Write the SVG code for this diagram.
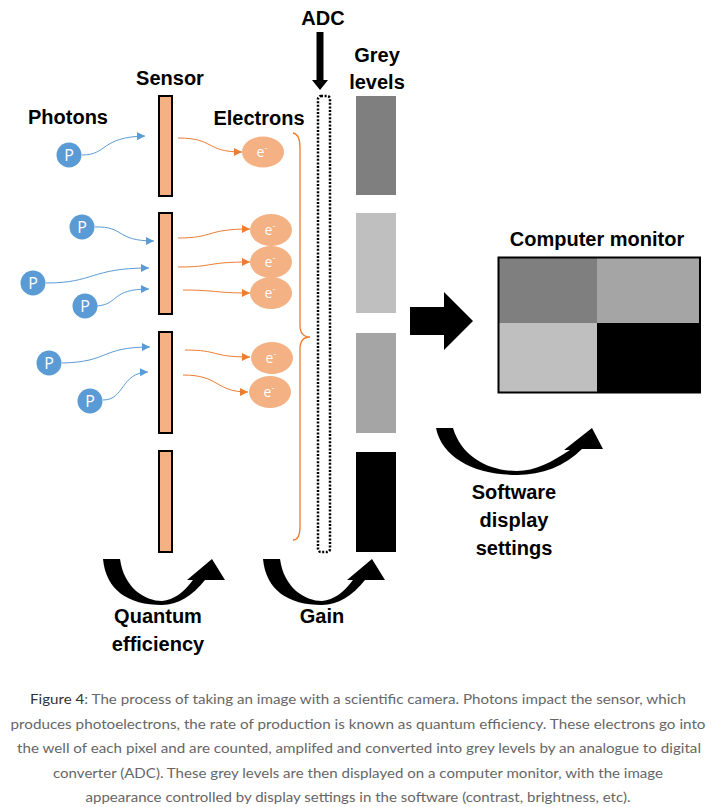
<svg xmlns="http://www.w3.org/2000/svg" width="716" height="807" viewBox="0 0 716 807">
<style>
.lbl{font-family:"Liberation Sans",Arial,sans-serif;font-weight:bold;font-size:20px;fill:#000;text-anchor:middle}
.bar{fill:#F4B183;stroke:#000;stroke-width:2}
.ph{fill:#5B9BD5}
.pt{font-family:"Open Sans","Liberation Sans",sans-serif;font-size:16px;fill:#fff;text-anchor:middle}
.el{fill:#F4B183}
.et{font-family:"Open Sans","Liberation Sans",sans-serif;font-size:14px;fill:#fff;text-anchor:middle}
.bl{fill:none;stroke:#5B9BD5;stroke-width:1}
.ol{fill:none;stroke:#ED7D31;stroke-width:1}
.cap{font-family:Lato,"Liberation Sans",sans-serif;font-size:14px;fill:#666;text-anchor:middle}
</style>
<defs>
<marker id="ab" markerUnits="userSpaceOnUse" markerWidth="10" markerHeight="10" refX="8" refY="4" orient="auto"><path d="M0,0 L8,4 L0,8 Z" fill="#5B9BD5"/></marker>
<marker id="ao" markerUnits="userSpaceOnUse" markerWidth="10" markerHeight="10" refX="8" refY="4" orient="auto"><path d="M0,0 L8,4 L0,8 Z" fill="#ED7D31"/></marker>
</defs>
<rect width="716" height="807" fill="#fff"/>

<g id="labels">
<text class="lbl" x="68" y="124">Photons</text>
<text class="lbl" x="170" y="85">Sensor</text>
<text class="lbl" x="259" y="125">Electrons</text>
<text class="lbl" x="323" y="25">ADC</text>
<text class="lbl" x="377" y="62">Grey</text>
<text class="lbl" x="377" y="89">levels</text>
<text class="lbl" x="597" y="246">Computer monitor</text>
<text class="lbl" x="158" y="623">Quantum</text>
<text class="lbl" x="158" y="651">efficiency</text>
<text class="lbl" x="322" y="623">Gain</text>
<text class="lbl" x="514" y="499">Software</text>
<text class="lbl" x="514" y="527">display</text>
<text class="lbl" x="514" y="555">settings</text>
</g>

<g id="sensor">
<rect class="bar" x="159" y="96" width="13" height="100"/>
<rect class="bar" x="159" y="213" width="13" height="101"/>
<rect class="bar" x="159" y="332" width="13" height="101"/>
<rect class="bar" x="159" y="451" width="13" height="101"/>
</g>

<g id="photons">
<circle class="ph" cx="69" cy="155" r="12.5"/><text class="pt" x="69" y="161">P</text>
<circle class="ph" cx="82" cy="227" r="12.5"/><text class="pt" x="82" y="233">P</text>
<circle class="ph" cx="33" cy="283" r="12.5"/><text class="pt" x="33" y="289">P</text>
<circle class="ph" cx="85" cy="306" r="12.5"/><text class="pt" x="85" y="312">P</text>
<circle class="ph" cx="49" cy="363" r="12.5"/><text class="pt" x="49" y="369">P</text>
<circle class="ph" cx="90" cy="401" r="12.5"/><text class="pt" x="90" y="407">P</text>
</g>

<g id="electrons">
<ellipse class="el" cx="263" cy="152" rx="21" ry="15.5"/><text class="et" x="262" y="157">e<tspan font-size="9" dy="-6">-</tspan></text>
<ellipse class="el" cx="271" cy="230" rx="21" ry="16"/><text class="et" x="270" y="235">e<tspan font-size="9" dy="-6">-</tspan></text>
<ellipse class="el" cx="271" cy="262" rx="21" ry="16"/><text class="et" x="270" y="267">e<tspan font-size="9" dy="-6">-</tspan></text>
<ellipse class="el" cx="271" cy="293" rx="21" ry="16"/><text class="et" x="270" y="298">e<tspan font-size="9" dy="-6">-</tspan></text>
<ellipse class="el" cx="272" cy="358" rx="21" ry="16"/><text class="et" x="271" y="363">e<tspan font-size="9" dy="-6">-</tspan></text>
<ellipse class="el" cx="270" cy="392" rx="21" ry="16"/><text class="et" x="269" y="397">e<tspan font-size="9" dy="-6">-</tspan></text>
</g>

<g id="adc">
<rect x="318" y="96" width="12" height="456" rx="3" fill="none" stroke="#000" stroke-width="2.5" stroke-dasharray="2,1.6"/>
<path d="M316.5,32 L323.5,32 L323.5,80 L328,80 L320,90 L312,80 L316.5,80 Z" fill="#000"/>
</g>

<g id="grey-levels">
<rect x="356" y="96" width="40" height="99" fill="#7F7F7F"/>
<rect x="356" y="213" width="40" height="100" fill="#BFBFBF"/>
<rect x="356" y="333" width="40" height="100" fill="#A5A5A5"/>
<rect x="356" y="452" width="40" height="100" fill="#000"/>
</g>

<g id="monitor">
<rect x="499" y="258" width="98" height="65" fill="#7F7F7F"/>
<rect x="597" y="258" width="102" height="65" fill="#A5A5A5"/>
<rect x="499" y="323" width="98" height="69" fill="#BFBFBF"/>
<rect x="597" y="323" width="102" height="69" fill="#000"/>
<rect x="498.5" y="257.5" width="201.5" height="135" fill="none" stroke="#000" stroke-width="2"/>
</g>

<g id="connectors">
<path class="bl" d="M82,155 C108,155 100,137 145,136" marker-end="url(#ab)"/>
<path class="bl" d="M95,227 C125,226 115,241 154,241" marker-end="url(#ab)"/>
<path class="bl" d="M46,283 C95,283 90,268 149,268" marker-end="url(#ab)"/>
<path class="bl" d="M97,306 C120,304 110,289 149,289" marker-end="url(#ab)"/>
<path class="bl" d="M62,363 C110,362 100,347 150,347" marker-end="url(#ab)"/>
<path class="bl" d="M103,400 C125,400 120,373 148,372" marker-end="url(#ab)"/>
<path class="ol" d="M178,138 C215,138 205,152 242,152" marker-end="url(#ao)"/>
<path class="ol" d="M178,238 C215,238 205,229 250,229" marker-end="url(#ao)"/>
<path class="ol" d="M178,267 C215,267 205,262 250,262" marker-end="url(#ao)"/>
<path class="ol" d="M183,290 C215,290 215,293 250,293" marker-end="url(#ao)"/>
<path class="ol" d="M185,350 C220,350 210,357 250,357" marker-end="url(#ao)"/>
<path class="ol" d="M183,375 C220,375 215,392 248,392" marker-end="url(#ao)"/>
<path d="M293,133 Q300,134 300,148 L300,325 Q300,337 310,337 Q300,337 300,349 L300,527 Q300,540 293,540" fill="none" stroke="#ED7D31" stroke-width="1.3"/>
<path d="M410,307 L444,307 L444,292 L473,321 L444,350 L444,335 L410,335 Z" fill="#000"/>
<path d="M103,559 L120,559 C124,588 145,601 162,601 C174,600 184,592 193,580 L187,580 L212,559 L225,580 L205,580 C192,596 178,605 162,605 C128,605 106,590 103,559 Z" fill="#000"/>
<path d="M103,559 L120,559 C124,588 145,601 162,601 C174,600 184,592 193,580 L187,580 L212,559 L225,580 L205,580 C192,596 178,605 162,605 C128,605 106,590 103,559 Z" fill="#000" transform="translate(160,0)"/>
<path d="M436,428 L453,428 C462,458 490,471 517,471 C535,471 552,462 570,450 L564,450 L592,428 L603,449 L582,449 C565,466 542,475 517,475 C475,475 442,458 436,428 Z" fill="#000"/>
</g>

<g id="caption">
<text class="cap" x="358" y="704" textLength="656" lengthAdjust="spacingAndGlyphs"><tspan fill="#333">Figure 4</tspan>: The process of taking an image with a scientific camera. Photons impact the sensor, which</text>
<text class="cap" x="358" y="729" textLength="695" lengthAdjust="spacingAndGlyphs">produces photoelectrons, the rate of production is known as quantum efficiency. These electrons go into</text>
<text class="cap" x="359" y="753" textLength="684" lengthAdjust="spacingAndGlyphs">the well of each pixel and are counted, amplifed and converted into grey levels by an analogue to digital</text>
<text class="cap" x="358" y="778" textLength="610" lengthAdjust="spacingAndGlyphs">converter (ADC). These grey levels are then displayed on a computer monitor, with the image</text>
<text class="cap" x="358" y="802" textLength="545" lengthAdjust="spacingAndGlyphs">appearance controlled by display settings in the software (contrast, brightness, etc).</text>
</g>
</svg>
